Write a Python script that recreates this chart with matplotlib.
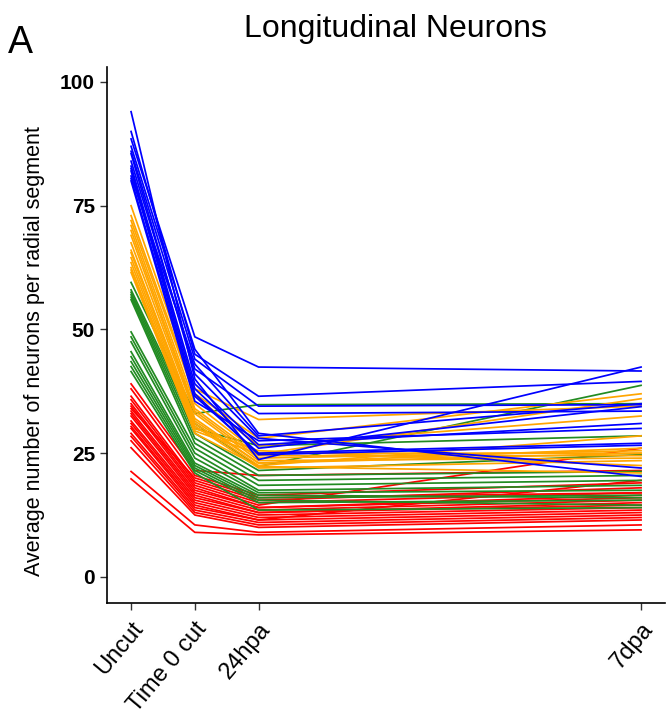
import matplotlib
matplotlib.use("Agg")
import matplotlib.pyplot as plt

plt.rcParams['font.family'] = ['Liberation Sans', 'DejaVu Sans']

# time points (days relative to the cut)
days = [-1, 0, 1, 7]
tick_labels = ["Uncut", "Time 0 cut", "24hpa", "7dpa"]

# each group: one list per time point, same index = same animal
blue_uncut = [88.5, 90, 86, 84, 94, 87, 85.5, 83, 82.5, 82, 81, 80.5, 80]
blue_t0 = [48.5, 45, 44, 42, 40, 46, 41, 39, 38, 37, 43, 36.5, 35.5]
blue_24h = [42.4, 36.5, 34.5, 33, 23.7, 29, 28, 26.7, 26, 24.7, 28.5, 25, 27.5]
blue_7d = [41.6, 39.5, 34.8, 33.5, 42.4, 20.3, 22, 31, 34.4, 26.6, 35, 27, 30]

orange_uncut = [75, 73, 72, 71, 70, 69, 67.5, 66, 65.5, 64.5, 63.5, 62.5, 62, 61.5]
orange_t0 = [38, 37, 36.5, 35, 34, 33.5, 33, 32, 31.5, 31, 30.5, 30, 29.5, 29]
orange_24h = [31.8, 28, 26.5, 25, 24.5, 24, 23.5, 23, 23, 22.5, 22, 25.5, 24.8, 22.3]
orange_7d = [34.5, 37, 32.5, 25, 24.5, 25.5, 24, 25, 26, 28.5, 23.5, 22.5, 36, 21]

green_uncut = [59.5, 58, 57.5, 57, 56.5, 56, 49.5, 48.5, 47.5, 45.5, 44.5, 43.5, 42.5, 41.5]
green_t0 = [33, 31, 30, 29, 28, 27, 26, 25, 24, 23, 22.5, 22, 21.5, 21]
green_24h = [34.8, 22.3, 26.5, 21.5, 20.5, 19.5, 18.5, 17.5, 17, 16.5, 16, 15.5, 15, 13.5]
green_7d = [35, 38.7, 28.5, 24.7, 21.3, 20.5, 19.5, 18.5, 17.5, 16, 16.5, 14.5, 15.5, 14]

red_uncut = [39, 38, 36.5, 35.8, 35, 34.5, 33.5, 33, 32.5, 31.5, 31, 30.4, 30, 29,
             28.4, 27.5, 26.1, 21.3, 19.8, 34]
red_t0 = [21.5, 20.5, 19.5, 19, 18.5, 18, 17.5, 17, 16.5, 16, 15.5, 15, 14.5, 14,
          13.5, 13, 12.5, 10.5, 9, 20]
red_24h = [20.5, 16.5, 15.5, 15, 14.5, 14, 14, 13.5, 13, 13, 12.5, 12, 11.5, 11.5,
           11, 10.5, 10, 9, 8.5, 16]
red_7d = [21.5, 19, 18, 17, 26, 16.5, 16, 15.5, 15, 14.5, 14, 13.5, 13, 19.5,
          12.5, 12, 11.5, 10.5, 9.5, 17]

groups = [
    ("#ff0000", red_uncut, red_t0, red_24h, red_7d),
    ("#228b22", green_uncut, green_t0, green_24h, green_7d),
    ("#ffa500", orange_uncut, orange_t0, orange_24h, orange_7d),
    ("#0000ff", blue_uncut, blue_t0, blue_24h, blue_7d),
]

fig = plt.figure(figsize=(6.72, 7.22), dpi=100)
ax = fig.add_axes([0.159, 0.165, 0.831, 0.742])

for color, a, b, c, d in groups:
    for vals in zip(a, b, c, d):
        ax.plot(days, vals, color=color, linewidth=1.25)

ax.set_xlim(-1.38, 7.38)
ax.set_ylim(-5.25, 103)
ax.set_xticks(days)
ax.set_xticklabels(tick_labels, rotation=50, ha="right", rotation_mode="anchor",
                   fontsize=17)
ax.set_yticks([0, 25, 50, 75, 100])
ax.set_yticklabels(["0", "25", "50", "75", "100"], fontsize=15, fontweight="bold")
ax.tick_params(length=5, width=1, color="#333333")
ax.tick_params(axis="x", pad=6)
ax.set_ylabel("Average number of neurons per radial segment", fontsize=15.5, labelpad=8)
ax.yaxis.set_label_coords(-0.11, 0.47)

for s in ["top", "right"]:
    ax.spines[s].set_visible(False)
for s in ["left", "bottom"]:
    ax.spines[s].set_linewidth(1.2)

fig.text(0.588, 0.96, "Longitudinal Neurons", ha="center", va="center", fontsize=23)
fig.text(0.012, 0.94, "A", ha="left", va="center", fontsize=27)

fig.savefig("out.png", dpi=100)
